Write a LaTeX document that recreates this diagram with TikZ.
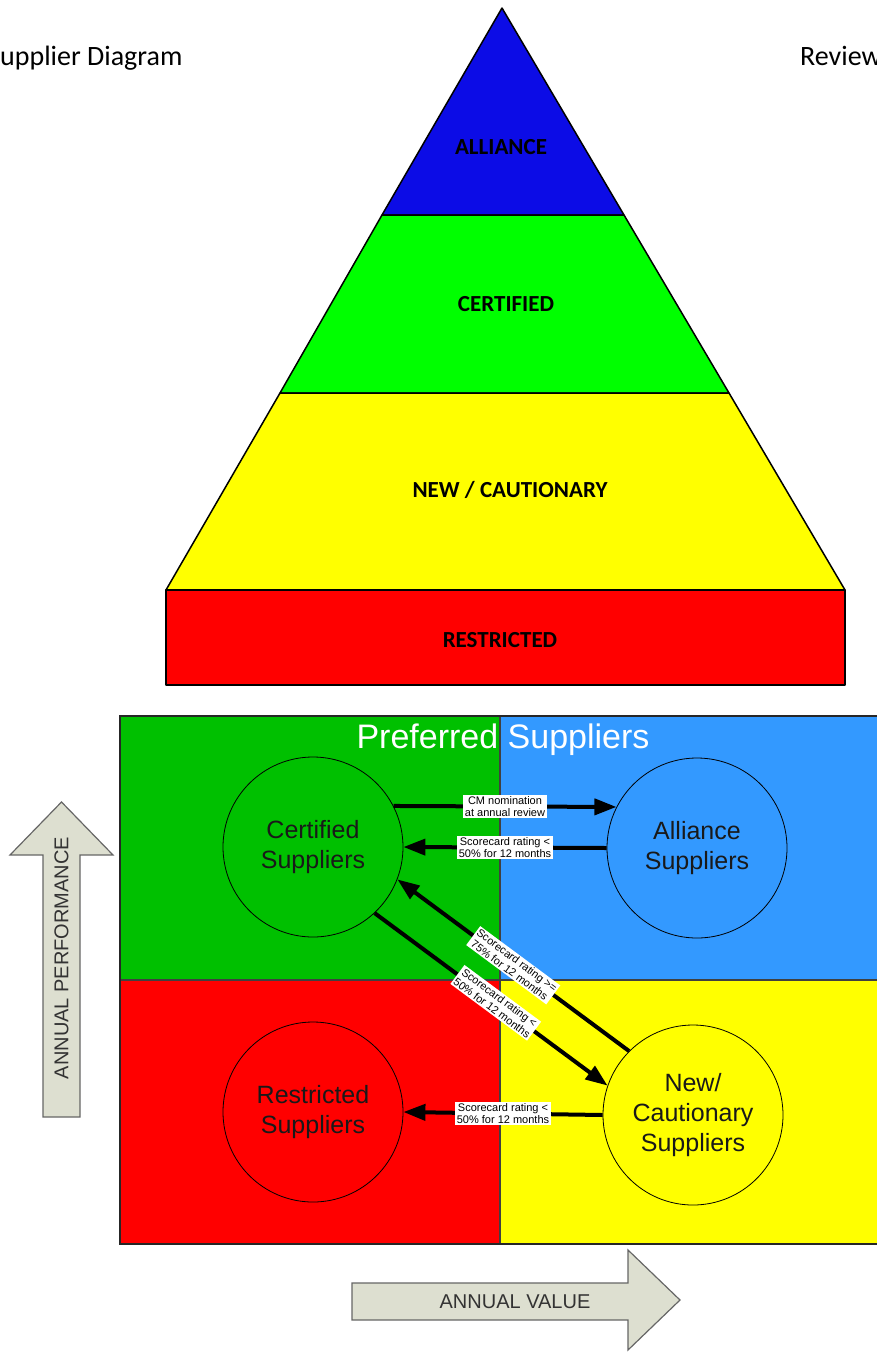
\documentclass[tikz,border=0pt]{standalone}
\usepackage{fontspec}
\setmainfont{Carlito}
\newfontfamily\arialf{Liberation Sans}
\usetikzlibrary{arrows.meta}
\definecolor{pblue}{RGB}{12,12,230}
\definecolor{pgreen}{RGB}{0,255,0}
\definecolor{pyellow}{RGB}{255,255,0}
\definecolor{pred}{RGB}{255,0,0}
\definecolor{qgreen}{RGB}{0,192,0}
\definecolor{qblue}{RGB}{51,153,255}
\definecolor{blockgray}{RGB}{221,223,208}

\begin{document}
\begin{tikzpicture}[x=1pt,y=-1pt]
    \tikzstyle{lvl}=[inner sep=0pt, font=\fontsize{23}{27}\selectfont\bfseries]
    \tikzstyle{band}=[draw=black, line width=1.5pt, line join=round]
    \tikzstyle{sup}=[circle, draw=black, line width=0.8pt, minimum size=180pt, inner sep=0pt, align=center, text=black!90, font=\arialf\fontsize{25}{30}\selectfont]
    \tikzstyle{conn}=[line width=4pt, -{Triangle[length=22pt,width=16pt]}]
    \tikzstyle{tag}=[fill=white, inner sep=1.5pt, align=center, font=\arialf\fontsize{11}{12.5}\selectfont]
    \tikzstyle{blk}=[draw=black!60, fill=blockgray, line width=1.2pt]
    \useasboundingbox (0,0) rectangle (877,1352);
    \clip (0,0) rectangle (877,1352);
    % header
    \node[anchor=base west, inner sep=0pt, font=\fontsize{28}{34}\selectfont] (title) at (0,65) {upplier Diagram};
    \node[anchor=base west, inner sep=0pt, font=\fontsize{28}{34}\selectfont] (review) at (800,65) {Review};
    % pyramid
    \draw[band, fill=pblue] (502,8) -- (382,215) -- (624,215) -- cycle;
    \draw[band, fill=pgreen] (382,215) -- (280,393) -- (729,393) -- (624,215) -- cycle;
    \draw[band, fill=pyellow] (280,393) -- (166,590) -- (845,590) -- (729,393) -- cycle;
    \draw[band, fill=pred] (166,590) rectangle (845,685);
    \node[lvl] (alliance) at (501,147) {ALLIANCE};
    \node[lvl] (certified) at (506,304) {CERTIFIED};
    \node[lvl] (newcaut) at (510,490) {NEW / CAUTIONARY};
    \node[lvl] (restricted) at (500,640) {RESTRICTED};
    % quadrants
    \fill[qgreen] (120,716) rectangle (500,980);
    \fill[qblue] (500,716) rectangle (890,980);
    \fill[pred] (120,980) rectangle (500,1244);
    \fill[pyellow] (500,980) rectangle (890,1244);
    \draw[black!75, line width=1.5pt] (500,716) -- (500,1244);
    \draw[black!75, line width=1.5pt] (120,980) -- (890,980);
    \draw[black!85, line width=2pt] (120,716) rectangle (890,1244);
    \node[anchor=base, inner sep=0pt, text=white, font=\arialf\fontsize{34}{40}\selectfont] (pref) at (503,748) {Preferred Suppliers};
    % suppliers
    \node[sup] (cert) at (313,847) {Certified\\Suppliers};
    \node[sup] (all) at (697,848) {Alliance\\Suppliers};
    \node[sup] (restr) at (313,1112) {Restricted\\Suppliers};
    \node[sup] (newc) at (693,1115) {New/\\Cautionary\\Suppliers};
    % moves
    \draw[conn] (cert.27) -- (all.153) node[tag, midway] (t1) {CM nomination\\at annual review};
    \draw[conn] (all.180) -- (cert.0) node[tag, midway] (t2) {Scorecard rating <\\50\% for 12 months};
    \draw[conn] (newc.135) -- (cert.-21) node[tag, pos=0.5, sloped] (t3) {Scorecard rating >=\\75\% for 12 months};
    \draw[conn] (cert.-47) -- (newc.161) node[tag, pos=0.52, sloped] (t4) {Scorecard rating <\\50\% for 12 months};
    \draw[conn] (newc.180) -- (restr.0) node[tag, midway] (t5) {Scorecard rating <\\50\% for 12 months};
    % axes
    \draw[blk] (43,1117) -- (43,855) -- (10,855) -- (61.5,802) -- (113,855) -- (80,855) -- (80,1117) -- cycle;
    \node[rotate=90, text=black!80, font=\arialf\fontsize{20}{24}\selectfont] (perf) at (61.5,958) {ANNUAL PERFORMANCE};
    \draw[blk] (352,1283) -- (628,1283) -- (628,1250) -- (680,1300) -- (628,1350) -- (628,1320) -- (352,1320) -- cycle;
    \node[text=black!80, font=\arialf\fontsize{20}{24}\selectfont] (value) at (515,1302) {ANNUAL VALUE};
\end{tikzpicture}
\end{document}
